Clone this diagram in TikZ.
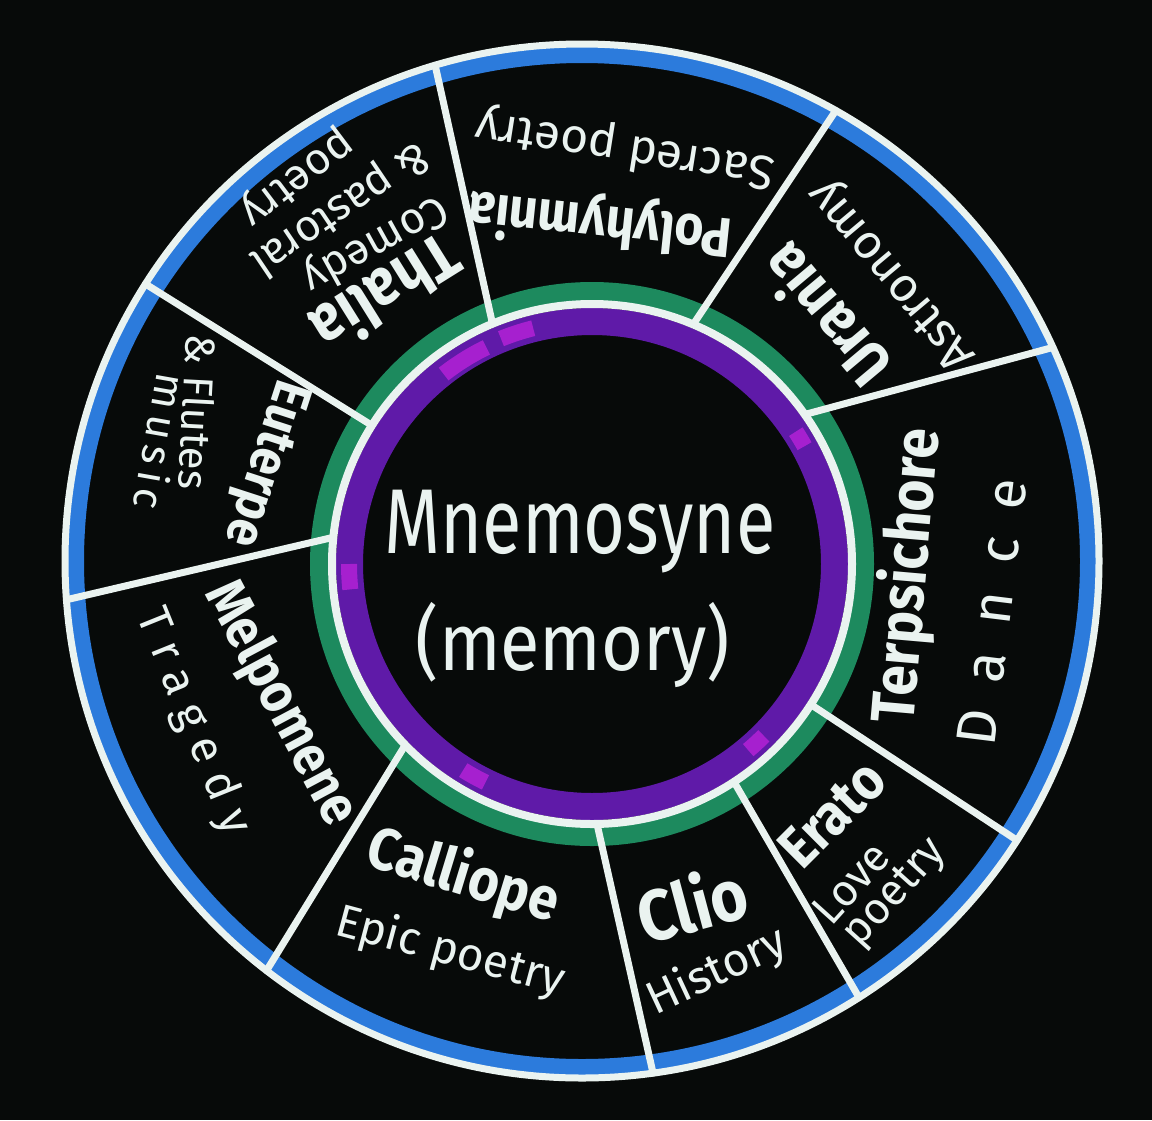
\documentclass[tikz,border=0pt]{standalone}
\usepackage{fontspec}
\setmainfont{Fira Sans}
\definecolor{bg}{HTML}{070A09}
\definecolor{wht}{HTML}{EAF3F0}
\definecolor{blu}{HTML}{2C7BDC}
\definecolor{grn}{HTML}{1D8A5E}
\definecolor{pur}{HTML}{5F1AA8}
\definecolor{mag}{HTML}{B322D6}
\tikzset{
  mname/.style 2 args={text=wht, inner sep=0pt, rotate=#2, yscale=1.12, font=\fontsize{#1}{#1}\selectfont\bfseries},
  mdesc/.style 2 args={text=wht, inner sep=0pt, rotate=#2, font=\fontsize{#1}{#1}\selectfont},
  divider/.style={draw=wht, line width=7pt, line cap=round},
  magpatch/.style={draw=mag, line width=16pt, opacity=0.85},
}
\begin{document}
\begin{tikzpicture}[x=1pt,y=1pt]
\fill[bg] (0,0) rectangle (1152,-1120);
\useasboundingbox (0,0) rectangle (1152,-1120);
\coordinate (oc) at (582,-561);
\coordinate (ic) at (592,-564);
% blue band
\fill[blu, even odd rule] (oc) circle[radius=514] (oc) circle[radius=498];
% green ring
\fill[grn, even odd rule] (ic) circle[radius=282] (ic) circle[radius=262];
% dividers (inner end on the white circle, outer end on the rim)
\coordinate (d1i) at ([shift={(112.5:260)}]ic); \coordinate (d1o) at ([shift={(106.5:517)}]oc);
\coordinate (d2i) at ([shift={(67.1:260)}]ic);  \coordinate (d2o) at ([shift={(60.6:517)}]oc);
\coordinate (d3i) at ([shift={(35.1:260)}]ic);  \coordinate (d3o) at ([shift={(24.4:517)}]oc);
\coordinate (d4i) at ([shift={(-32.7:260)}]ic); \coordinate (d4o) at ([shift={(-32.7:517)}]oc);
\coordinate (d5i) at ([shift={(-56.9:260)}]ic); \coordinate (d5o) at ([shift={(-57.6:517)}]oc);
\coordinate (d6i) at ([shift={(-88.9:260)}]ic); \coordinate (d6o) at ([shift={(-82.1:517)}]oc);
\coordinate (d7i) at ([shift={(224.1:260)}]ic); \coordinate (d7o) at ([shift={(232.4:517)}]oc);
\coordinate (d8i) at ([shift={(174.1:260)}]ic); \coordinate (d8o) at ([shift={(184.3:517)}]oc);
\coordinate (d9i) at ([shift={(147.8:260)}]ic); \coordinate (d9o) at ([shift={(147.6:517)}]oc);
\foreach \k in {1,...,9} {\draw[divider] (d\k i) -- (d\k o);}
% outer white circle
\draw[wht, line width=7pt] (oc) circle[radius=517];
% purple ring
\fill[pur, even odd rule] (ic) circle[radius=256] (ic) circle[radius=229];
\draw[magpatch] ([shift={(104:243)}]ic) arc[start angle=104, end angle=112, radius=243];
\draw[magpatch] ([shift={(116:241)}]ic) arc[start angle=116, end angle=128, radius=241];
\draw[magpatch] ([shift={(180:243)}]ic) arc[start angle=180, end angle=186, radius=243];
\draw[magpatch] ([shift={(238:243)}]ic) arc[start angle=238, end angle=244, radius=243];
\draw[magpatch] ([shift={(-50:243)}]ic) arc[start angle=-50, end angle=-45, radius=243];
\draw[magpatch] ([shift={(29:243)}]ic) arc[start angle=29, end angle=33, radius=243];
% inner white circle
\draw[wht, line width=8pt] (ic) circle[radius=260];
% centre text
\node[text=wht, inner sep=0pt, xscale=0.9, yscale=1.15, font=\fontsize{80}{80}\selectfont] (mnem) at (580,-532) {Mnemosyne};
\node[text=wht, inner sep=0pt, yscale=1.12, font=\fontsize{72}{72}\selectfont] (mem) at (573,-645) {(memory)};
% muse names
\node[mname={50}{174}] (poly) at (600,-222) {Polyhymnia};
\node[mname={58}{212}] (thal) at (387,-295) {Thalia};
\node[mname={55}{130}] (uran) at (824,-317) {Urania};
\node[mname={55}{85}] (terp) at (908,-576) {Terpsichore};
\node[mname={52}{45}] (erat) at (832,-814) {Erato};
\node[mname={64}{15}] (clio) at (692,-903) {Clio};
\node[mname={53}{-17}] (call) at (463,-877) {Calliope};
\node[mname={50}{-62}] (melp) at (280,-704) {Melpomene};
\node[mname={48}{-108}] (eute) at (264,-463) {Euterpe};
% domains
\node[mdesc={48}{171}] (sacred) at (625,-148) {Sacred poetry};
\node[mdesc={44}{209}] (comedy) at (375,-243) {Comedy};
\node[mdesc={44}{214}] (past) at (340,-208) {\& pastoral};
\node[mdesc={44}{217}] (poet1) at (296,-177) {poetry};
\node[mdesc={48}{130}] (astro) at (893,-274) {Astronomy};
\node[mdesc={56}{83}] (dance) at (992,-612) {D\hspace{28pt}a\hspace{28pt}n\hspace{28pt}c\hspace{28pt}e};
\node[mdesc={44}{48}] (love) at (851,-883) {Love};
\node[mdesc={44}{48}] (poet2) at (896,-894) {poetry};
\node[mdesc={46}{25}] (hist) at (717,-972) {History};
\node[mdesc={46}{-15}] (epic) at (450,-952) {Epic poetry};
\node[mdesc={46}{-68}] (trag) at (193,-722) {\addfontfeature{LetterSpace=28}Tragedy};
\node[mdesc={42}{-93}] (flut) at (198,-412) {\& Flutes};
\node[mdesc={42}{-100}] (musi) at (161,-442) {\addfontfeature{LetterSpace=15}music};
\end{tikzpicture}
\end{document}
